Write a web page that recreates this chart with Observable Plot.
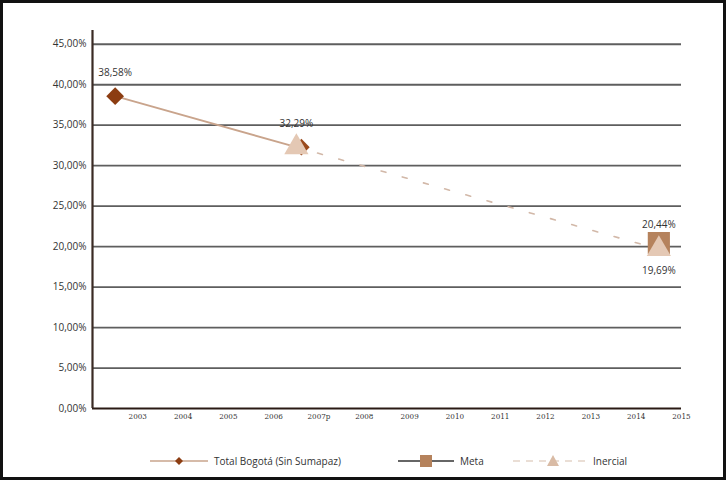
<!DOCTYPE html>
<html>
<head>
<meta charset="utf-8">
<script src="https://cdn.jsdelivr.net/npm/d3@7"></script>
<script src="https://cdn.jsdelivr.net/npm/@observablehq/plot@0.6"></script>
<style>
  html, body { margin: 0; padding: 0; background: #fff; }
  #frame { position: relative; width: 726px; height: 480px; box-sizing: border-box; border: 3px solid #111; background: #fff; font-family: "Open Sans", sans-serif; overflow: hidden; }
  #legend { position: absolute; left: 0; top: 447px; width: 720px; height: 22px; font-size: 10px; color: #333; }
  .item { position: absolute; top: 0; display: flex; align-items: center; height: 22px; }
  .item svg { margin-right: 6px; }
</style>
</head>
<body>
<div id="frame">
  <div id="chart"></div>
  <div id="legend">
    <div class="item" style="left:147px">
      <svg width="58" height="14"><line x1="0" y1="7" x2="58" y2="7" stroke="#c9a48c" stroke-width="1.5"/><path d="M29,3 L33,7 L29,11 L25,7 Z" fill="#8c3d12"/></svg>
      <span>Total Bogotá (Sin Sumapaz)</span>
    </div>
    <div class="item" style="left:395px">
      <svg width="56" height="14"><line x1="0" y1="7" x2="56" y2="7" stroke="#333" stroke-width="1.5"/><rect x="22" y="1" width="12" height="12" fill="#b5825c"/></svg>
      <span>Meta</span>
    </div>
    <div class="item" style="left:510px">
      <svg width="74" height="14"><line x1="0" y1="7" x2="74" y2="7" stroke="#e3d3c7" stroke-width="1.5" stroke-dasharray="7,6"/><path d="M40,1 L46,12 L34,12 Z" fill="#d9bba5"/></svg>
      <span>Inercial</span>
    </div>
  </div>
</div>
<script>
const categories = ["2003","2004","2005","2006","2007p","2008","2009","2010","2011","2012","2013","2014","2015"];
const yTicks = [0, 5, 10, 15, 20, 25, 30, 35, 40, 45];

const totalYears = ["2003", "2007p"];
const totalValues = [38.58, 32.29];

const metaYears = ["2015"];
const metaValues = [20.44];

const inercialYears = ["2007p", "2015"];
const inercialValues = [32.29, 19.69];

const idx = c => categories.indexOf(c);
const total = totalYears.map((c, i) => ({x: idx(c), y: totalValues[i]}));
const meta = metaYears.map((c, i) => ({x: idx(c), y: metaValues[i]}));
const inercial = inercialYears.map((c, i) => ({x: idx(c), y: inercialValues[i]}));

const fmt = v => v.toFixed(2).replace(".", ",") + "%";

const chart = Plot.plot({
  width: 720,
  height: 425,
  marginLeft: 89,
  marginRight: 42,
  marginTop: 27,
  marginBottom: 20,
  style: {fontFamily: "Open Sans, sans-serif", background: "#fff"},
  x: {domain: [-0.5, categories.length - 0.5], axis: null},
  y: {domain: [0, 46.7], axis: null},
  marks: [
    Plot.ruleY(yTicks.filter(d => d > 0), {stroke: "#5e5e5e", strokeWidth: 1.8}),
    Plot.axisY(yTicks, {label: null, tickSize: 0, tickPadding: 6, tickFormat: fmt, fontSize: 10, fill: "#333"}),
    Plot.axisX(d3.range(categories.length), {label: null, tickSize: 0, tickPadding: 5, tickFormat: i => categories[i], dx: 22.6, fontSize: 8, fill: "#333", fontFamily: "DejaVu Serif Condensed, serif"}),
    Plot.ruleY([0], {x1: -0.5, x2: categories.length - 0.5, stroke: "#2a1a14", strokeWidth: 2.2}),
    Plot.ruleX([-0.5], {y1: 0, y2: 46.7, stroke: "#3a2a24", strokeWidth: 2.2}),
    Plot.line(inercial, {x: "x", y: "y", stroke: "#d2b8a8", strokeWidth: 1.6, strokeDasharray: "5,17"}),
    Plot.line(total, {x: "x", y: "y", stroke: "#c9a48c", strokeWidth: 1.8}),
    Plot.dot(total.slice(0, 1), {x: "x", y: "y", symbol: "diamond2", r: 8, fill: "#8c3d12"}),
    Plot.dot(total.slice(1), {x: "x", y: "y", symbol: "diamond2", r: 7.5, fill: "#9a4a1c", dx: 5}),
    Plot.dot(meta, {x: "x", y: "y", symbol: "square", r: 12.5, fill: "#b5825c"}),
    Plot.dot(inercial, {x: "x", y: "y", symbol: "triangle", r: 9, fill: "#e4c8b4"}),
    Plot.text(total, {x: "x", y: "y", text: d => fmt(d.y), dy: -23, fontSize: 10, fill: "#333"}),
    Plot.text(meta, {x: "x", y: "y", text: d => fmt(d.y), dy: -18, fontSize: 10, fill: "#333"}),
    Plot.text(inercial.slice(1), {x: "x", y: "y", text: d => fmt(d.y), dy: 22, fontSize: 10, fill: "#333"})
  ]
});
document.getElementById("chart").appendChild(chart);
</script>
</body>
</html>
